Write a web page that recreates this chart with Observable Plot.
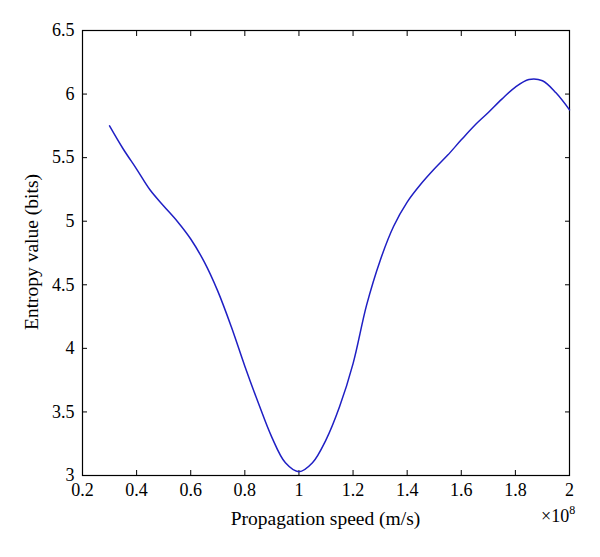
<!DOCTYPE html>
<html>
<head>
<meta charset="utf-8">
<script src="https://cdn.jsdelivr.net/npm/d3@7"></script>
<script src="https://cdn.jsdelivr.net/npm/@observablehq/plot@0.6"></script>
<style>
  html, body { margin: 0; padding: 0; background: #fff; }
  svg { font-family: "Liberation Serif", serif; }
</style>
</head>
<body>
<div id="chart"></div>
<script>
const speed = [0.30,0.35,0.40,0.45,0.50,0.55,0.60,0.65,0.70,0.75,0.80,0.85,0.90,0.95,1.00,1.05,1.10,1.15,1.20,1.25,1.30,1.35,1.40,1.45,1.50,1.55,1.60,1.65,1.70,1.75,1.80,1.85,1.90,1.95,2.00];
const entropy = [5.75,5.57,5.41,5.245,5.12,5.00,4.86,4.68,4.45,4.17,3.86,3.57,3.30,3.10,3.03,3.10,3.28,3.54,3.88,4.34,4.69,4.96,5.15,5.29,5.41,5.52,5.64,5.755,5.855,5.96,6.055,6.115,6.105,6.01,5.876];
const xTicks = [0.2,0.4,0.6,0.8,1,1.2,1.4,1.6,1.8,2];
const yTicks = [3,3.5,4,4.5,5,5.5,6,6.5];
const xLabel = "Propagation speed (m/s)";
const yLabel = "Entropy value (bits)";
const xExponent = "8";

const data = speed.map((s, i) => ({speed: s, entropy: entropy[i]}));

const chart = Plot.plot({
  width: 600,
  height: 557,
  marginLeft: 82,
  marginRight: 31,
  marginTop: 30,
  marginBottom: 82,
  style: {fontFamily: "Liberation Serif, serif", fontSize: "18px", color: "#000", background: "#fff"},
  x: {domain: [0.2, 2]},
  y: {domain: [3, 6.5]},
  marks: [
    Plot.frame({stroke: "#000", strokeWidth: 1.2}),
    Plot.axisX(xTicks, {anchor: "bottom", tickSize: -5, tickPadding: 13, tickFormat: d => String(d), label: null, fontSize: 18}),
    Plot.axisX(xTicks, {anchor: "top", tickSize: -5, tickFormat: () => "", label: null}),
    Plot.axisY(yTicks, {anchor: "left", tickSize: -5, tickPadding: 13, tickFormat: d => String(d), label: null, fontSize: 18}),
    Plot.axisY(yTicks, {anchor: "right", tickSize: -5, tickFormat: () => "", label: null}),
    Plot.line(data, {x: "speed", y: "entropy", stroke: "#1f1fc4", strokeWidth: 1.5, curve: "catmull-rom"})
  ]
});

document.getElementById("chart").appendChild(chart);

const svg = d3.select(chart);
svg.append("text")
  .attr("x", 325.5).attr("y", 525)
  .attr("text-anchor", "middle")
  .attr("font-size", 19.5)
  .attr("fill", "#000")
  .text(xLabel);
svg.append("text")
  .attr("transform", "translate(38,252) rotate(-90)")
  .attr("text-anchor", "middle")
  .attr("font-size", 19.5)
  .attr("fill", "#000")
  .text(yLabel);
const ex = svg.append("text")
  .attr("x", 541).attr("y", 522)
  .attr("text-anchor", "start")
  .attr("font-size", 18)
  .attr("fill", "#000");
ex.append("tspan").text("×10");
ex.append("tspan").attr("dy", -8).attr("font-size", 12).text(xExponent);
</script>
</body>
</html>
